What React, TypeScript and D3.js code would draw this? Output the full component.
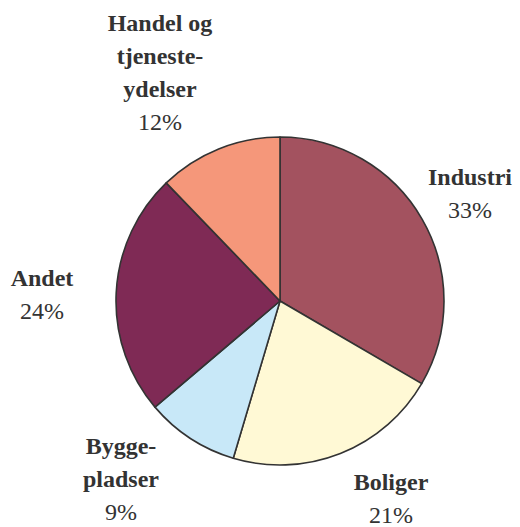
import React from "react";
import * as d3 from "d3";

const categories = ["Industri", "Boliger", "Byggepladser", "Andet", "Handel og tjenesteydelser"];
const values = [33.4, 21.2, 9.2, 24.0, 12.2];
const percentLabels = ["33%", "21%", "9%", "24%", "12%"];
const nameLines = [["Industri"], ["Boliger"], ["Bygge-", "pladser"], ["Andet"], ["Handel og", "tjeneste-", "ydelser"]];
const colors = ["#A3525F", "#FFF9D5", "#C8E8F8", "#7F2A55", "#F5977A"];

const W = 520;
const H = 527;
const cx = 280;
const cy = 301;
const R = 164;
const FONT = "Liberation Serif";

// label anchor positions (centre x, first baseline y)
const labelPos: [number, number][] = [
  [470, 185],
  [391, 490],
  [121, 454],
  [42, 286],
  [160, 31],
];
const lineGap = 33;

export default function App() {
  const pie = d3.pie<number>().sort(null).value((d) => d)(values);
  const arc = d3.arc<d3.PieArcDatum<number>>().innerRadius(0).outerRadius(R);
  return (
    <svg width={W} height={H} style={{ position: "absolute", left: 0, top: 0, background: "#fff" }}>
      <g transform={`translate(${cx},${cy})`}>
        {pie.map((p, i) => (
          <path key={i} d={arc(p) || ""} fill={colors[i]} stroke="#333" strokeWidth={1.6} strokeLinejoin="round" />
        ))}
      </g>
      {categories.map((c, i) => {
        const [x, y] = labelPos[i];
        const lines = nameLines[i];
        return (
          <g key={c}>
            {lines.map((l, j) => (
              <text key={j} x={x} y={y + j * lineGap} textAnchor="middle" fontSize={24} fontWeight="bold" fill="#333" style={{ fontFamily: FONT }}>{l}</text>
            ))}
            <text x={x} y={y + lines.length * lineGap} textAnchor="middle" fontSize={24} fill="#333" style={{ fontFamily: FONT }}>{percentLabels[i]}</text>
          </g>
        );
      })}
    </svg>
  );
}
